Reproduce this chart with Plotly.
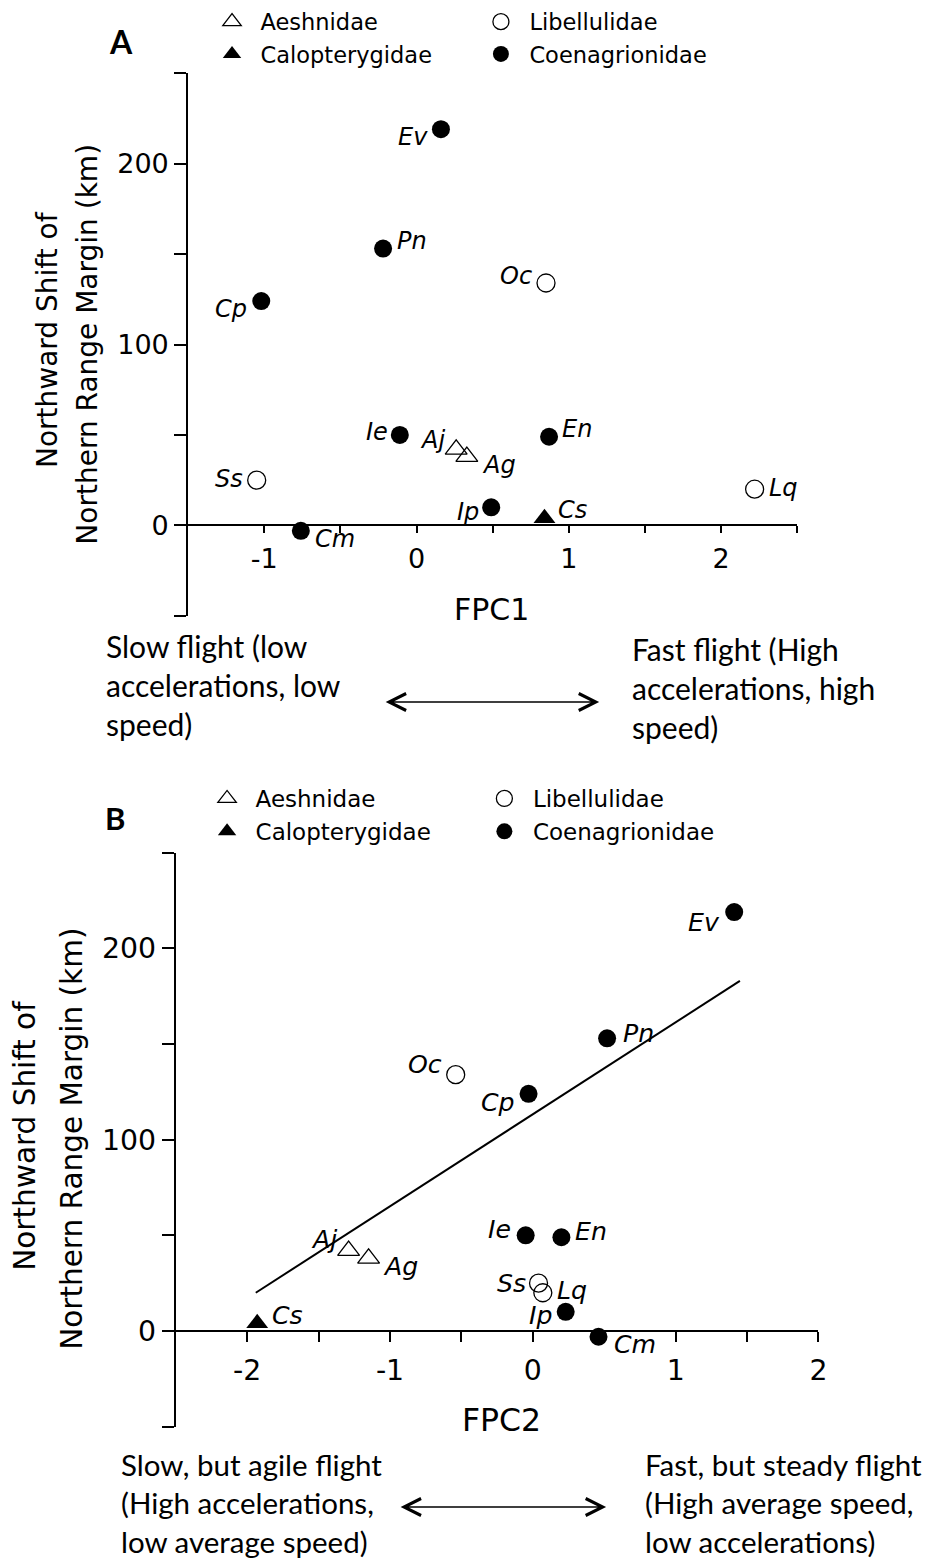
import plotly.graph_objects as go

# Species codes, families and scores
species = ["Ev", "Pn", "Cp", "Oc", "Ie", "En", "Aj", "Ag", "Ss", "Lq", "Ip", "Cs", "Cm"]
family = ["Coenagrionidae", "Coenagrionidae", "Coenagrionidae", "Libellulidae",
          "Coenagrionidae", "Coenagrionidae", "Aeshnidae", "Aeshnidae",
          "Libellulidae", "Libellulidae", "Coenagrionidae", "Calopterygidae",
          "Coenagrionidae"]
fpc1 = [0.16, -0.22, -1.02, 0.85, -0.11, 0.87, 0.26, 0.33, -1.05, 2.22, 0.49, 0.84, -0.76]
fpc2 = [1.41, 0.52, -0.03, -0.54, -0.05, 0.20, -1.29, -1.15, 0.04, 0.07, 0.23, -1.93, 0.46]
shift_km = [219, 153, 124, 134, 50, 49, 42, 38, 25, 20, 10, 4, -3]

# Fitted line for panel B (FPC2 end points and predicted shift)
trend_fpc2 = [-1.94, 1.45]
trend_shift = [20, 183]

family_order = ["Aeshnidae", "Libellulidae", "Calopterygidae", "Coenagrionidae"]

y_tickvals = [-50, 0, 50, 100, 150, 200, 250]
y_ticktext = ["", "0", "", "100", "", "200", ""]
xA_tickvals = [-1, -0.5, 0, 0.5, 1, 1.5, 2, 2.5]
xA_ticktext = ["-1", "", "0", "", "1", "", "2", ""]
xB_tickvals = [-2, -1.5, -1, -0.5, 0, 0.5, 1, 1.5, 2]
xB_ticktext = ["-2", "", "-1", "", "0", "", "1", "", "2"]

desc_A_left = "Slow flight (low<br>accelerations, low<br>speed)"
desc_A_right = "Fast flight (High<br>accelerations, high<br>speed)"
desc_B_left = "Slow, but agile flight<br>(High accelerations,<br>low average speed)"
desc_B_right = "Fast, but steady flight<br>(High average speed,<br>low accelerations)"

# ---------------------------------------------------------------- styling
W, H = 936, 1561
SANS = "DejaVu Sans"
NOTE = "Lato"


def px_x(v):
    return v / W


def px_y(v):
    return 1 - v / H


marker_style = {
    "Aeshnidae": dict(symbol="triangle-up-open", size=19, color="black",
                      line=dict(width=1.3, color="black")),
    "Libellulidae": dict(symbol="circle-open", size=18, color="black",
                         line=dict(width=1.3, color="black")),
    "Calopterygidae": dict(symbol="triangle-up", size=19, color="black",
                           line=dict(width=0, color="black")),
    "Coenagrionidae": dict(symbol="circle", size=18, color="black",
                           line=dict(width=0, color="black")),
}

# legend column for each family (first or second column of the key)
legend_column = {"Aeshnidae": 0, "Calopterygidae": 0,
                 "Libellulidae": 1, "Coenagrionidae": 1}

# label placement: (xanchor, xshift, yshift) in pixels
label_pos_A = {
    "Ev": ("right", -11, -8), "Pn": ("left", 12, 8), "Cp": ("right", -12, -8),
    "Oc": ("right", -12, 7), "Ie": ("right", -10, 3), "En": ("left", 11, 8),
    "Aj": ("right", -9, 9), "Ag": ("left", 13, -8), "Ss": ("right", -12, 1),
    "Lq": ("left", 12, 1), "Ip": ("right", -10, -5), "Cs": ("left", 12, 8),
    "Cm": ("left", 12, -8),
}
label_pos_B = {
    "Ev": ("right", -12, -10), "Pn": ("left", 14, 5), "Cp": ("right", -12, -9),
    "Oc": ("right", -12, 10), "Ie": ("right", -13, 6), "En": ("left", 12, 6),
    "Aj": ("right", -10, 11), "Ag": ("left", 12, -8), "Ss": ("right", -11, 0),
    "Lq": ("left", 12, 2), "Ip": ("right", -12, -4), "Cs": ("left", 13, 8),
    "Cm": ("left", 13, -8),
}

panels = [
    dict(xs=fpc1, xa="x", ya="y", legs=("legend", "legend2"), labels=label_pos_A,
         fs=1.0, xpx=(190, 805), xrange=[-1.5, 2.5], ypx=(615.85, 73.15),
         xtv=xA_tickvals, xtt=xA_ticktext, xticklen=7, xstand=2),
    dict(xs=fpc2, xa="x2", ya="y2", legs=("legend3", "legend4"), labels=label_pos_B,
         fs=1.05, xpx=(177.5, 826.4), xrange=[-2.5, 2.0], ypx=(1426.65, 852.75),
         xtv=xB_tickvals, xtt=xB_ticktext, xticklen=10, xstand=4),
]

fig = go.Figure()
annotations = []
layout_axes = {}

for k, p in enumerate(panels):
    for fam in family_order:
        idx = [i for i, f in enumerate(family) if f == fam]
        fig.add_trace(go.Scatter(
            x=[p["xs"][i] for i in idx], y=[shift_km[i] for i in idx],
            mode="markers", name=fam, marker=marker_style[fam],
            xaxis=p["xa"], yaxis=p["ya"], legend=p["legs"][legend_column[fam]],
            text=[species[i] for i in idx], hoverinfo="text+x+y",
        ))
    for i, sp in enumerate(species):
        anchor, dx, dy = p["labels"][sp]
        annotations.append(dict(
            x=p["xs"][i], y=shift_km[i], xref=p["xa"], yref=p["ya"],
            text="<i>%s</i>" % sp, showarrow=False, xanchor=anchor,
            yanchor="middle", xshift=dx, yshift=dy,
            font=dict(family=SANS, size=24 * p["fs"], color="black"),
        ))

    yd = [px_y(p["ypx"][0]), px_y(p["ypx"][1])]
    yr = [-50, 250]
    zero_pos = yd[0] + (0 - yr[0]) / (yr[1] - yr[0]) * (yd[1] - yd[0])
    suffix = "" if k == 0 else "2"
    layout_axes["xaxis" + suffix] = dict(
        domain=[px_x(p["xpx"][0]), px_x(p["xpx"][1])], range=p["xrange"],
        anchor="free", position=zero_pos,
        showline=True, linecolor="black", linewidth=2, mirror=False,
        ticks="outside", ticklen=p["xticklen"], tickwidth=2, tickcolor="black",
        tickvals=p["xtv"], ticktext=p["xtt"], ticklabelstandoff=p["xstand"],
        tickfont=dict(family=SANS, size=27 * p["fs"], color="black"),
        showgrid=False, zeroline=False, fixedrange=True,
    )
    layout_axes["yaxis" + suffix] = dict(
        domain=yd, range=yr, anchor=p["xa"],
        showline=True, linecolor="black", linewidth=2, mirror=False,
        ticks="outside", ticklen=12, tickwidth=2, tickcolor="black",
        tickvals=y_tickvals, ticktext=y_ticktext, ticklabelstandoff=0,
        tickfont=dict(family=SANS, size=27 * p["fs"], color="black"),
        showgrid=False, zeroline=False, fixedrange=True,
    )

# fitted line in panel B
fig.add_trace(go.Scatter(
    x=trend_fpc2, y=trend_shift, mode="lines", line=dict(color="black", width=2),
    xaxis="x2", yaxis="y2", showlegend=False, hoverinfo="skip",
))


def text_note(x, y, txt, size, family=SANS, angle=0, xanchor="center", align="center",
              bold=False):
    return dict(x=px_x(x), y=px_y(y), xref="paper", yref="paper", text=txt,
                showarrow=False, xanchor=xanchor, yanchor="middle", align=align,
                textangle=angle,
                font=dict(family=family, size=size, color="black",
                          weight="bold" if bold else "normal"))


annotations += [
    text_note(496, 609, "FPC1", 30),
    text_note(506, 1420, "FPC2", 31.5),
    text_note(48.5, 340, "Northward Shift of", 28, angle=-90),
    text_note(87.5, 344, "Northern Range Margin (km)", 28, angle=-90),
    text_note(25, 1136, "Northward Shift of", 29.5, angle=-90),
    text_note(72.5, 1139, "Northern Range Margin (km)", 29.5, angle=-90),
    text_note(122.5, 41.5, "A", 32, family=NOTE, bold=True),
    text_note(116, 818, "B", 31, family=NOTE, bold=True),
    text_note(105, 684.5, desc_A_left, 30, family=NOTE, xanchor="left", align="left"),
    text_note(636, 687.5, desc_A_right, 30, family=NOTE, xanchor="left", align="left"),
    text_note(120, 1503, desc_B_left, 29.5, family=NOTE, xanchor="left", align="left"),
    text_note(649, 1503, desc_B_right, 29.5, family=NOTE, xanchor="left", align="left"),
]

# double-headed arrows between the descriptions
for (x0, x1, yv) in [(390, 605, 702), (405, 612, 1507)]:
    annotations.append(dict(
        x=px_x(x1), y=px_y(yv), xref="paper", yref="paper", text="",
        showarrow=True, axref="pixel", ayref="pixel", ax=-(x1 - x0), ay=0,
        arrowhead=5, startarrowhead=5, arrowside="end+start",
        arrowsize=2.2, startarrowsize=2.2, arrowwidth=1.5, arrowcolor="black",
        standoff=0, startstandoff=0,
    ))


def key(left, top, size):
    return dict(orientation="v", x=px_x(left), y=px_y(top), xanchor="left",
                yanchor="top", bgcolor="rgba(0,0,0,0)", itemwidth=47,
                traceorder="normal", tracegroupgap=0, itemclick=False,
                itemdoubleclick=False,
                font=dict(family=SANS, size=size, color="black"))


fig.update_layout(
    width=W, height=H, margin=dict(l=0, r=0, t=0, b=0),
    paper_bgcolor="white", plot_bgcolor="white",
    showlegend=True,
    legend=key(205.5, 0.5, 22.5),
    legend2=key(477, 0.5, 22.5),
    legend3=key(200.5, 777, 23),
    legend4=key(480.5, 777, 23),
    annotations=annotations,
    **layout_axes,
)

fig.write_html("out.html")
